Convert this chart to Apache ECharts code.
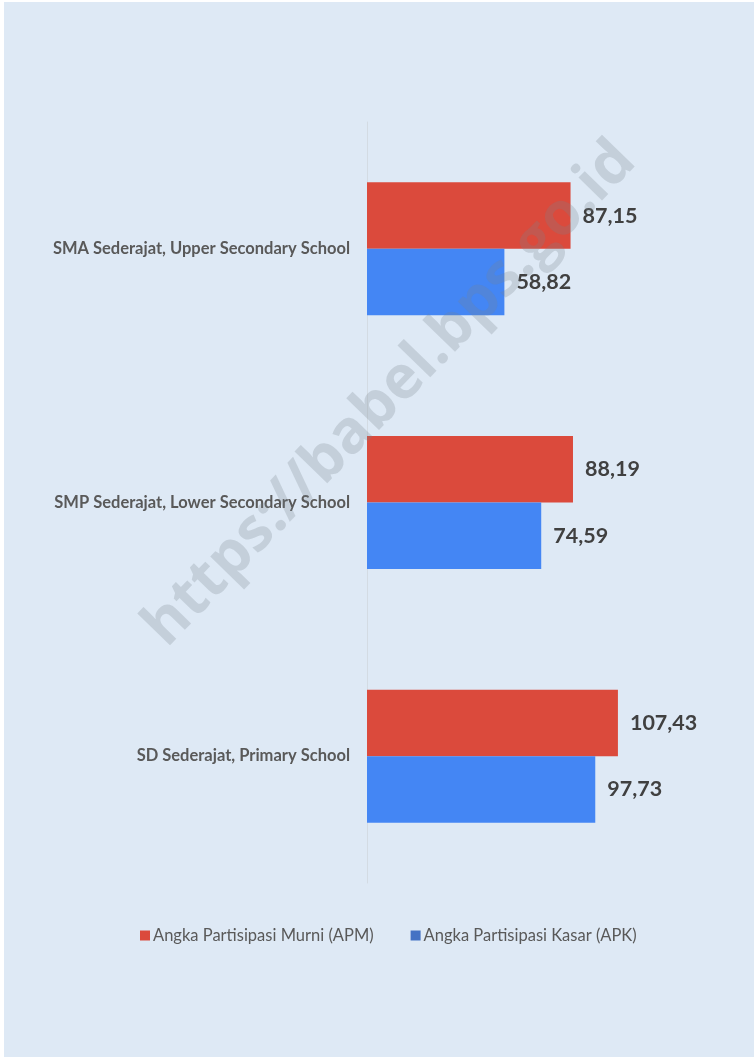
<!DOCTYPE html>
<html>
<head>
<meta charset="utf-8">
<script src="https://cdn.jsdelivr.net/npm/echarts@6/dist/echarts.min.js"></script>
<style>
  html, body { margin: 0; padding: 0; background: #ffffff; }
  #chart { position: absolute; left: 4px; top: 2px; width: 750px; height: 1055px; background: #dee9f5; }
</style>
</head>
<body>
<div id="chart"></div>
<script>
// kategori dari bawah ke atas
const categories = [
  "SD Sederajat, Primary School",
  "SMP Sederajat, Lower Secondary School",
  "SMA Sederajat, Upper Secondary School",
];
const apm = [107.43, 88.19, 87.15];
const apk = [97.73, 74.59, 58.82];
const seriesNames = ["Angka Partisipasi Murni (APM)", "Angka Partisipasi Kasar (APK)"];

const fontFamily = "Lato, 'Open Sans', sans-serif";

function fmt(p) {
  return p.value.toFixed(2).replace(".", ",");
}

const valueLabel = {
  show: true,
  position: "right",
  distance: 12,
  formatter: fmt,
  color: "#404040",
  fontSize: 21.5,
  fontWeight: "bold",
  fontFamily: fontFamily,
};

const chart = echarts.init(document.getElementById("chart"));
chart.setOption({
  animation: false,
  textStyle: { fontFamily: fontFamily },
  grid: { left: 363, top: 120, height: 761, width: 327 },
  legend: {
    data: [
      { name: seriesNames[0], itemStyle: { color: "#db4a3c" } },
      { name: seriesNames[1], itemStyle: { color: "#4472c4" } },
    ],
    bottom: 108,
    left: 131,
    icon: "rect",
    itemWidth: 10,
    itemHeight: 10,
    itemGap: 37,
    textStyle: { color: "#595959", fontSize: 16.5, fontFamily: fontFamily, padding: [0, 0, 0, -2] },
  },
  xAxis: {
    type: "value",
    min: 0,
    max: 140,
    show: false,
  },
  yAxis: {
    type: "category",
    data: categories,
    axisLine: { show: true, lineStyle: { color: "#d3dbe3", width: 1 } },
    axisTick: { show: false },
    axisLabel: {
      margin: 17,
      color: "#595959",
      fontSize: 16.5,
      fontWeight: "bold",
      fontFamily: fontFamily,
    },
  },
  series: [
    {
      name: seriesNames[0],
      type: "bar",
      data: apm,
      barGap: "0%",
      barCategoryGap: "47.6%",
      itemStyle: { color: "#db4a3c" },
      label: valueLabel,
    },
    {
      name: seriesNames[1],
      type: "bar",
      data: apk,
      barGap: "0%",
      barCategoryGap: "47.6%",
      itemStyle: { color: "#4486f4" },
      label: valueLabel,
    },
  ],
  graphic: [
    {
      type: "text",
      x: 386,
      y: 392,
      rotation: 0.8,
      z: 100,
      style: {
        text: "https://babel.bps.go.id",
        fill: "rgba(120,130,140,0.25)",
        fontSize: 60,
        fontWeight: "bold",
        fontFamily: "'Open Sans', sans-serif",
        align: "center",
        verticalAlign: "middle",
      },
    },
  ],
});
</script>
</body>
</html>
